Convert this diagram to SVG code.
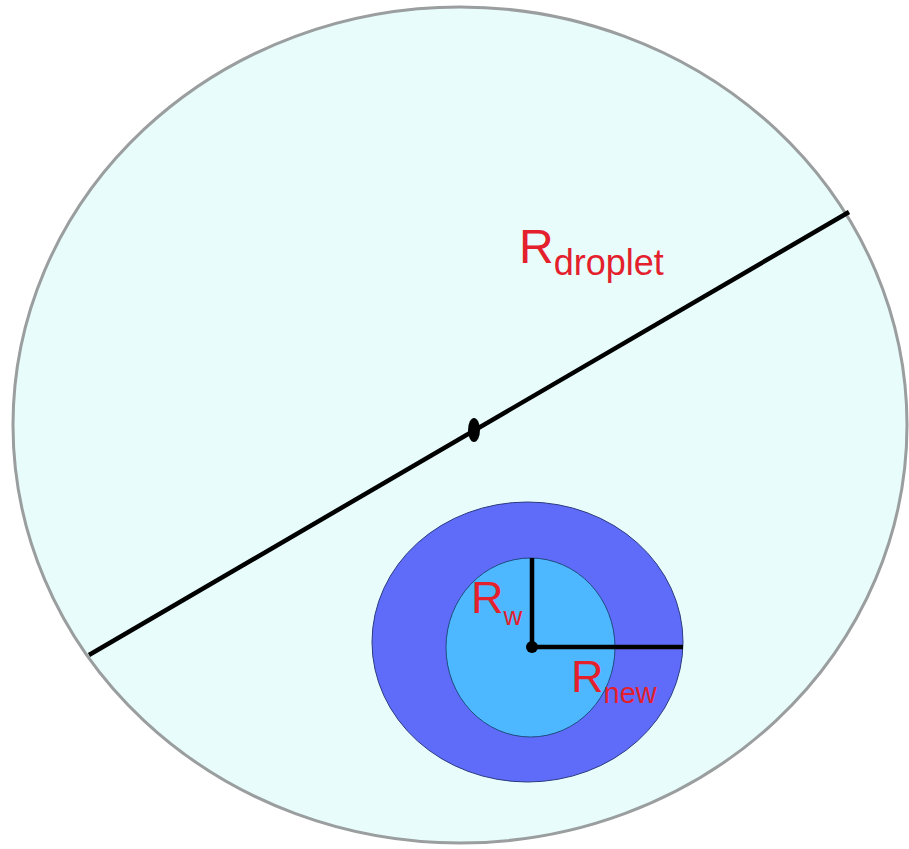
<svg xmlns="http://www.w3.org/2000/svg" width="909" height="849" viewBox="0 0 909 849">
<style>
.lbl{font-family:"Liberation Sans",Arial,sans-serif;fill:#E3202C}
.ln{stroke:#000;stroke-width:4.5;fill:none;stroke-linecap:butt}
</style>
<rect width="909" height="849" fill="#fff"/>
<g id="droplet">
<ellipse cx="460" cy="425" rx="447" ry="418" fill="#E8FCFC" stroke="#9a9e9e" stroke-width="3"/>
</g>
<g id="shell">
<ellipse cx="527.5" cy="642" rx="155.5" ry="140" fill="#5F6CF9" stroke="#2a3a80" stroke-width="1"/>
</g>
<g id="core">
<ellipse cx="530.5" cy="647.5" rx="84.5" ry="89.5" fill="#4DB8FF" stroke="#1f4a80" stroke-width="1"/>
</g>
<g id="connectors">
<line class="ln" x1="89" y1="655" x2="849" y2="212"/>
<ellipse cx="474" cy="430" rx="6" ry="12" fill="#000"/>
<line class="ln" x1="532" y1="558" x2="532" y2="647"/>
<line class="ln" x1="532" y1="647" x2="683" y2="647"/>
<circle cx="532" cy="647" r="6" fill="#000"/>
</g>
<g id="labels">
<text class="lbl" x="519" y="263" font-size="48">R<tspan font-size="36" dy="12">droplet</tspan></text>
<text class="lbl" x="471" y="613" font-size="45">R<tspan font-size="26" dy="12">w</tspan></text>
<text class="lbl" x="571" y="692" font-size="45">R<tspan font-size="29" dy="11">new</tspan></text>
</g>
</svg>
